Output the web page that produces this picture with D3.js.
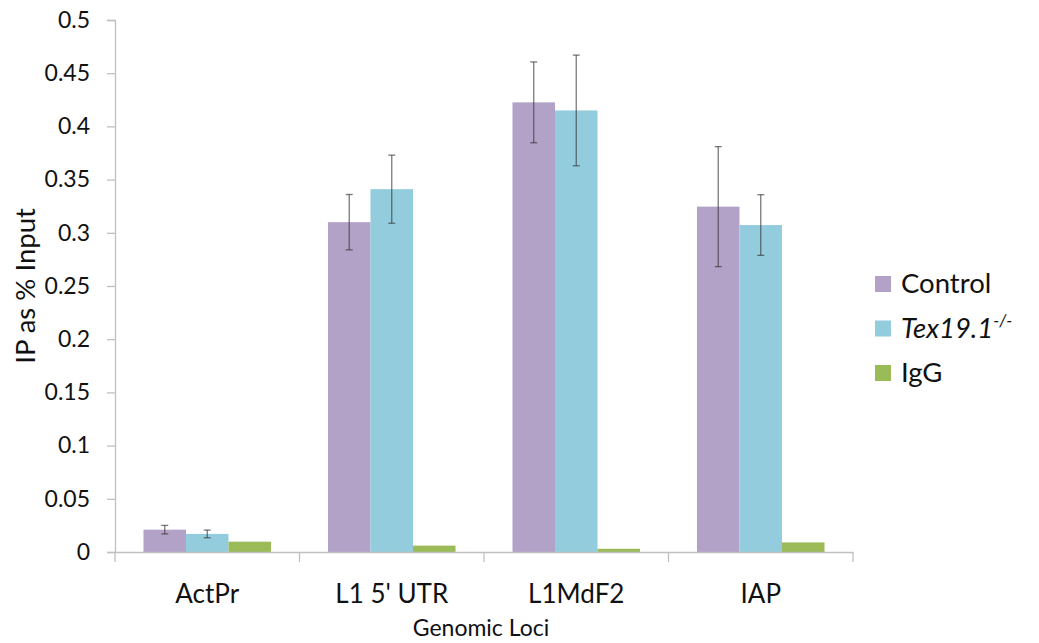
<!DOCTYPE html>
<html>
<head>
<meta charset="utf-8">
<script src="https://cdn.jsdelivr.net/npm/d3@7"></script>
<style>
  body { margin: 0; background: #fff; }
  svg { font-family: Lato, "Open Sans", sans-serif; }
</style>
</head>
<body>
<svg id="chart" width="1039" height="643"></svg>
<script>
// values
let categories = ["ActPr", "L1 5' UTR", "L1MdF2", "IAP"]
let series = ["Control", "Tex19.1", "IgG"]
let control_values = [0.021, 0.310, 0.4226, 0.3246]
let control_errors = [0.004, 0.026, 0.038, 0.0564]
let tex_values = [0.017, 0.341, 0.415, 0.3073]
let tex_errors = [0.0036, 0.032, 0.052, 0.0285]
let igg_values = [0.0097, 0.006, 0.003, 0.009]
let y_ticks = [0, 0.05, 0.1, 0.15, 0.2, 0.25, 0.3, 0.35, 0.4, 0.45, 0.5]

let colors = { "Control": "#b3a2c7", "Tex19.1": "#93cddd", "IgG": "#9bbb59" }

let svg = d3.select("#chart")
let plot_left = 115, plot_right = 853, plot_top = 20, plot_bottom = 552

let x = d3.scaleBand().domain(categories).range([plot_left, plot_right]).paddingInner(0).paddingOuter(0)
let x_inner = d3.scaleBand().domain(series).range([0, x.bandwidth()]).paddingOuter(0.67)
let y = d3.scaleLinear().domain([0, 0.5]).range([plot_bottom, plot_top])

let rows = []
categories.forEach((c, i) => {
    rows.push({ cat: c, s: "Control", v: control_values[i], e: control_errors[i] })
    rows.push({ cat: c, s: "Tex19.1", v: tex_values[i], e: tex_errors[i] })
    rows.push({ cat: c, s: "IgG", v: igg_values[i], e: null })
})

// y axis
let y_axis = svg.append("g")
    .attr("transform", `translate(${plot_left},0)`)
    .call(d3.axisLeft(y).tickValues(y_ticks).tickSize(8).tickPadding(17)
        .tickFormat((d) => String(+d.toFixed(2))))
    .attr("font-family", null)
y_axis.select(".domain").attr("stroke", "#c0c0c0").attr("stroke-width", 1.3)
y_axis.selectAll(".tick line").attr("stroke", "#c0c0c0").attr("stroke-width", 1.3)
y_axis.selectAll("text").attr("font-size", "23px").attr("fill", "#111")

// bars
svg.append("g").selectAll("rect")
    .data(rows)
    .join("rect")
    .attr("x", (d) => x(d.cat) + x_inner(d.s))
    .attr("width", x_inner.bandwidth())
    .attr("y", (d) => y(d.v))
    .attr("height", (d) => y(0) - y(d.v))
    .attr("fill", (d) => colors[d.s])

// x axis
let x_axis = svg.append("g")
    .attr("transform", `translate(0,${plot_bottom})`)
    .call(d3.axisBottom(x).tickSize(0).tickPadding(0))
    .attr("font-family", null)
x_axis.select(".domain").attr("stroke", "#c0c0c0").attr("stroke-width", 1.3)
x_axis.selectAll("text").attr("font-size", "26px").attr("fill", "#111")
    .attr("dy", null).attr("y", 51)
x_axis.selectAll(".sep")
    .data(d3.range(categories.length + 1))
    .join("line")
    .attr("class", "sep")
    .attr("x1", (i) => plot_left + i * x.bandwidth())
    .attr("x2", (i) => plot_left + i * x.bandwidth())
    .attr("y1", 0).attr("y2", 10)
    .attr("stroke", "#c0c0c0").attr("stroke-width", 1.3)

// error bars
let err = svg.append("g").attr("stroke", "#333").attr("stroke-opacity", 0.65).attr("stroke-width", 1.3)
rows.filter((d) => d.e != null).forEach((d) => {
    let cx = x(d.cat) + x_inner(d.s) + x_inner.bandwidth() / 2
    err.append("line").attr("x1", cx).attr("x2", cx).attr("y1", y(d.v + d.e)).attr("y2", y(d.v - d.e))
    err.append("line").attr("x1", cx - 3.5).attr("x2", cx + 3.5).attr("y1", y(d.v + d.e)).attr("y2", y(d.v + d.e))
    err.append("line").attr("x1", cx - 3.5).attr("x2", cx + 3.5).attr("y1", y(d.v - d.e)).attr("y2", y(d.v - d.e))
})

// axis titles
svg.append("text")
    .attr("transform", `translate(35,286) rotate(-90)`)
    .attr("text-anchor", "middle")
    .attr("font-size", "27.5px").attr("fill", "#111")
    .text("IP as % Input")

svg.append("text")
    .attr("x", 481).attr("y", 636)
    .attr("text-anchor", "middle")
    .attr("font-size", "23px").attr("fill", "#111")
    .text("Genomic Loci")

// legend
let legend = svg.append("g").attr("transform", "translate(875,284)")
series.forEach((s, i) => {
    let g = legend.append("g").attr("transform", `translate(0,${i * 44.5})`)
    g.append("rect").attr("x", 0).attr("y", -8).attr("width", 16).attr("height", 16).attr("fill", colors[s])
    let t = g.append("text").attr("x", 26).attr("y", 9).attr("font-size", "27.5px").attr("fill", "#111")
    if (s == "Tex19.1") {
        t.append("tspan").attr("font-style", "italic").text("Tex19.1")
        t.append("tspan").attr("font-style", "italic").attr("font-size", "17px").attr("dy", -11).text("-/-")
    } else {
        t.text(s)
    }
})
</script>
</body>
</html>
